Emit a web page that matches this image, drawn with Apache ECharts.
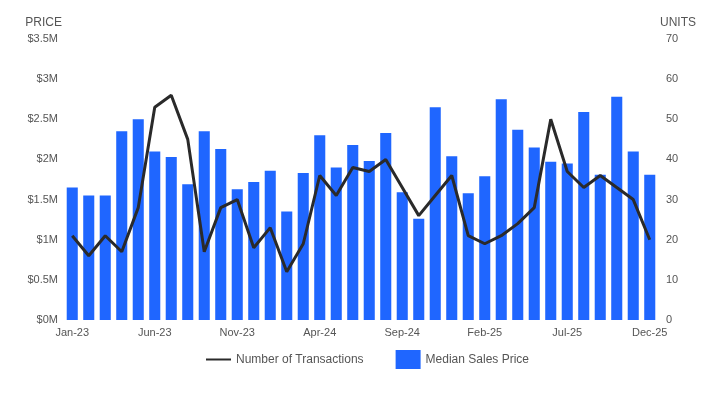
<!DOCTYPE html>
<html>
<head>
<meta charset="utf-8">
<title>price and units</title>
<script type="text/javascript" src="https://cdn.jsdelivr.net/npm/echarts@6/dist/echarts.min.js"></script>
<style>
	html, body { margin: 0; padding: 0; background: #fff; }
	#container { width: 720px; height: 397px; }
</style>
</head>
<body>
	<div id="container"></div>
	<script type="text/javascript">
	// months Jan-23 .. Dec-25
	var months = ['Jan-23','Feb-23','Mar-23','Apr-23','May-23','Jun-23','Jul-23','Aug-23','Sep-23','Oct-23','Nov-23','Dec-23',
		'Jan-24','Feb-24','Mar-24','Apr-24','May-24','Jun-24','Jul-24','Aug-24','Sep-24','Oct-24','Nov-24','Dec-24',
		'Jan-25','Feb-25','Mar-25','Apr-25','May-25','Jun-25','Jul-25','Aug-25','Sep-25','Oct-25','Nov-25','Dec-25'];

	// median sales price, $M
	var medianPrice = [1.65,1.55,1.55,2.35,2.50,2.10,2.03,1.69,2.35,2.13,1.63,1.72,
		1.86,1.35,1.83,2.30,1.90,2.18,1.98,2.33,1.59,1.26,2.65,2.04,
		1.58,1.79,2.75,2.37,2.15,1.97,1.95,2.59,1.81,2.78,2.10,1.81];

	// number of transactions
	var transactions = [21,16,21,17,28,53,56,45,17,28,30,18,
		23,12,19,36,31,38,37,40,33,26,31,36,
		21,19,21,24,28,50,37,33,36,33,30,20];

	var textColor = '#555555';
	var font = '"Liberation Sans", Arial, sans-serif';

	var dom = document.getElementById("container");
	var myChart = echarts.init(dom);

	var option = {
		animation: false,
		textStyle: { fontFamily: font },
		grid: { left: 64, right: 62, top: 39, bottom: 77 },
		legend: {
			bottom: 23,
			left: 200,
			itemWidth: 25,
			itemHeight: 19,
			itemGap: 32,
			textStyle: { color: textColor, fontSize: 12, fontFamily: font },
			data: [
				{ name: 'Number of Transactions', itemStyle: { color: 'rgba(0,0,0,0)', borderWidth: 0 } },
				{ name: 'Median Sales Price', icon: 'rect' }
			]
		},
		xAxis: {
			type: 'category',
			data: months,
			axisLine: { show: false },
			axisTick: { show: false },
			axisLabel: { interval: 4, color: textColor, fontSize: 11, margin: 7, fontFamily: font }
		},
		yAxis: [{
			type: 'value',
			name: 'PRICE',
			nameLocation: 'end',
			nameGap: 10,
			nameTextStyle: { color: textColor, fontSize: 12, align: 'right', padding: [0, 2, 0, 0], fontFamily: font },
			min: 0, max: 3.5, interval: 0.5,
			splitLine: { show: false },
			axisLabel: {
				color: textColor, fontSize: 11, margin: 6, fontFamily: font,
				formatter: function (v) { return '$' + v + 'M'; }
			}
		}, {
			type: 'value',
			name: 'UNITS',
			nameLocation: 'end',
			nameGap: 10,
			nameTextStyle: { color: textColor, fontSize: 12, align: 'left', padding: [0, 0, 0, 2], fontFamily: font },
			min: 0, max: 70, interval: 10,
			splitLine: { show: false },
			axisLabel: { color: textColor, fontSize: 11, margin: 8, fontFamily: font }
		}],
		series: [{
			name: 'Median Sales Price',
			type: 'bar',
			yAxisIndex: 0,
			data: medianPrice,
			barWidth: '67%',
			itemStyle: { color: '#1f66ff' }
		}, {
			name: 'Number of Transactions',
			type: 'line',
			yAxisIndex: 1,
			data: transactions,
			symbol: 'none',
			lineStyle: { color: '#2a2a2a', width: 3 },
			itemStyle: { color: '#2a2a2a' }
		}]
	};

	myChart.setOption(option, true);
	</script>
</body>
</html>
